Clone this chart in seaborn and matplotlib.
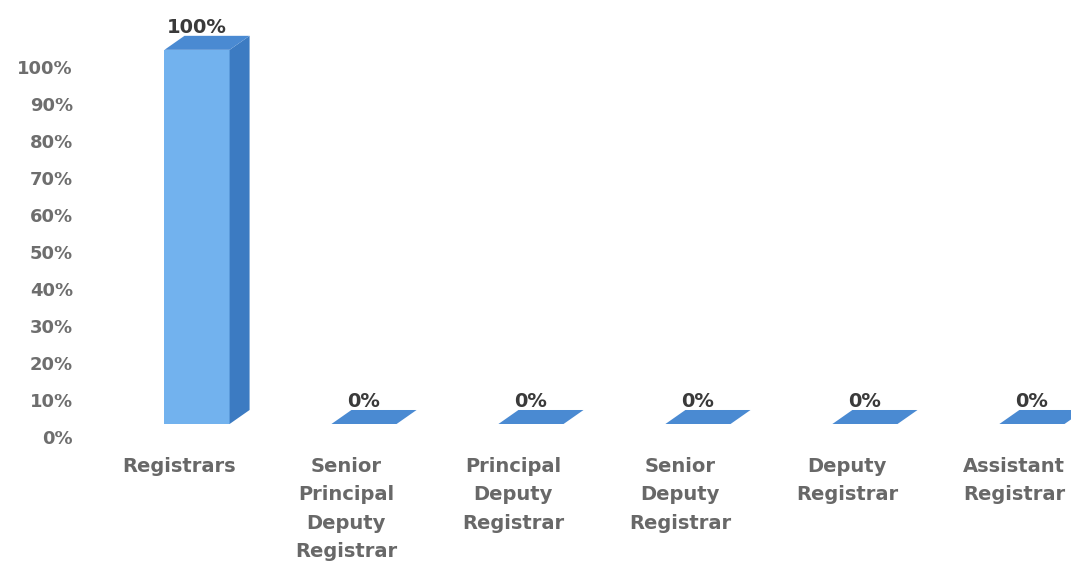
import seaborn as sns
import pandas as pd
import matplotlib.pyplot as plt
from matplotlib.patches import Polygon
from matplotlib.transforms import ScaledTranslation, blended_transform_factory

# Data
categories = ['Registrars', 'Senior\nPrincipal\nDeputy\nRegistrar', 'Principal\nDeputy\nRegistrar',
              'Senior\nDeputy\nRegistrar', 'Deputy\nRegistrar', 'Assistant\nRegistrar']
values = [100, 0, 0, 0, 0, 0]
y_ticks = [0, 10, 20, 30, 40, 50, 60, 70, 80, 90, 100]

df = pd.DataFrame({'Category': categories, 'Share': values})

sns.set_style('white')
plt.rcParams['font.family'] = ['DejaVu Sans']

fig = plt.figure(figsize=(10.71, 5.66), dpi=100)
ax = fig.add_axes([95 / 1071, (566 - 424) / 566, (1071 - 95) / 1071, (424 - 30) / 566])

front = '#72B2EE'
side = '#3C7BC2'
top = '#4A8AD2'

sns.barplot(x='Category', y='Share', data=df, color=front, width=0.39,
            saturation=1, ax=ax, zorder=2)
ax.set_xlim(-0.611, 5.234)
ax.set_ylim(0, 105.3)

# 3D depth (about 20 px right, 14 px up)
dx, dy = 20 / 167, 14 / 3.74
for p in ax.patches[:len(values)]:
    x0, w, h = p.get_x(), p.get_width(), p.get_height()
    p.set_edgecolor('none')
    if h > 0:
        ax.add_patch(Polygon([(x0 + w, 0), (x0 + w + dx, dy), (x0 + w + dx, h + dy), (x0 + w, h)],
                             closed=True, facecolor=side, edgecolor='none', zorder=3, clip_on=False))
    ax.add_patch(Polygon([(x0, h), (x0 + dx, h + dy), (x0 + w + dx, h + dy), (x0 + w, h)],
                         closed=True, facecolor=top, edgecolor='none', zorder=3, clip_on=False))

# value labels
for i, v in enumerate(values):
    ax.text(i, v + dy, f'{v}%', ha='center', va='baseline', fontsize=14, fontweight='bold',
            color='#3A3A3A', zorder=5,
            transform=ax.transData + ScaledTranslation(0, 2 / 72, fig.dpi_scale_trans))

# y tick labels (shifted down like the original perspective)
ax.set_yticks([])
ax.set_xticks([])
ytr = blended_transform_factory(ax.transAxes, ax.transData) + \
    ScaledTranslation(-22 / 100, -15 / 100, fig.dpi_scale_trans)
for t in y_ticks:
    ax.text(0, t * 0.99, f'{t}%', ha='right', va='center', fontsize=13, fontweight='bold',
            color='#6E6E6E', transform=ytr)

# category labels
xtr = ax.transData + ScaledTranslation(-18 / 100, -33 / 100, fig.dpi_scale_trans)
for i, c in enumerate(categories):
    ax.text(i, 0, c, ha='center', va='top', multialignment='center', fontsize=14,
            fontweight='bold', color='#686868', linespacing=1.62, transform=xtr)

ax.set_xlabel('')
ax.set_ylabel('')
sns.despine(ax=ax, left=True, bottom=True)

fig.savefig('out.png', dpi=100)
